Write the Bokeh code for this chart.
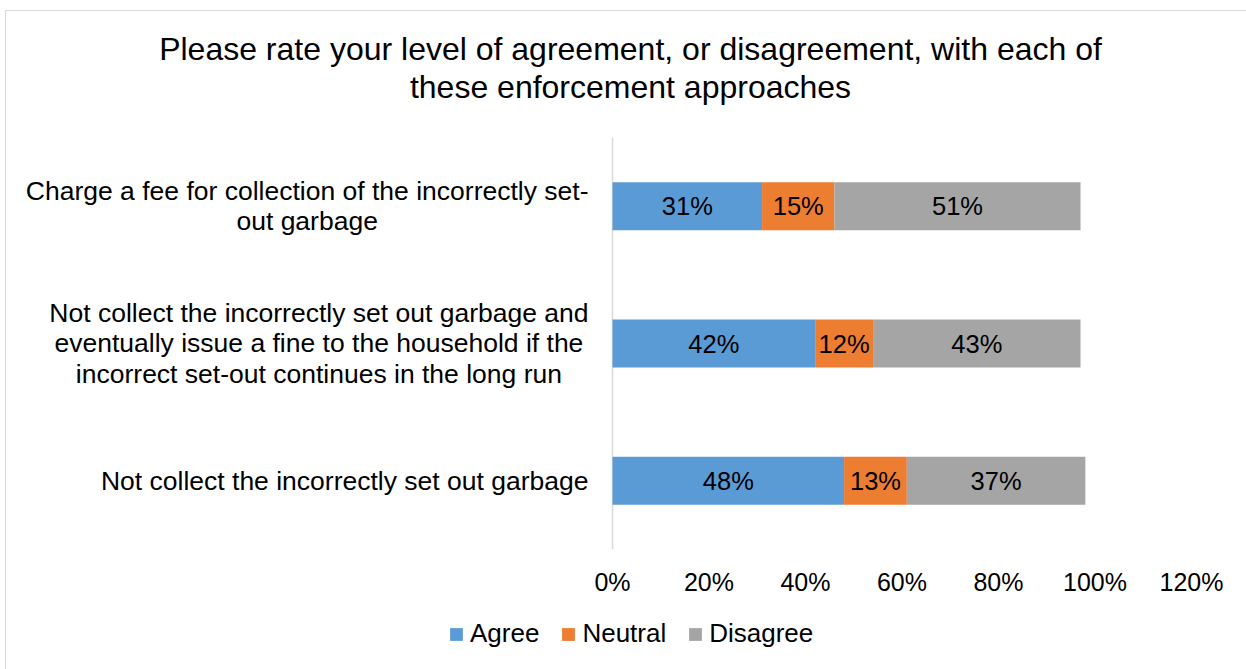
from bokeh.plotting import figure
from bokeh.layouts import column
from bokeh.models import (Range1d, FixedTicker, Legend, LegendItem, ColumnDataSource,
                          InlineStyleSheet)
from bokeh.core.properties import value
from bokeh.embed import file_html
from bokeh.resources import INLINE

# ---------------- data ----------------
title_lines = ["Please rate your level of agreement, or disagreement, with each of",
               "these enforcement approaches"]
categories = [
    "Charge a fee for collection of the incorrectly set-\nout garbage",
    "Not collect the incorrectly set out garbage and\neventually issue a fine to the household if the\nincorrect set-out continues in the long run",
    "Not collect the incorrectly set out garbage",
]
series = ["Agree", "Neutral", "Disagree"]
agree = [31, 42, 48]
neutral = [15, 12, 13]
disagree = [51, 43, 37]
tick_values = [0, 20, 40, 60, 80, 100, 120]
tick_labels = ["0%", "20%", "40%", "60%", "80%", "100%", "120%"]

# ---------------- layout / style ----------------
colors = ["#5B9BD5", "#ED7D31", "#A5A5A5"]
FONT = "Liberation Sans"
W, H = 1246, 669
MAIN_H = 600            # main figure (plot + x axis); legend strip below
PX_PER = 4.825          # pixels per percentage point
X0 = 612                # pixel of 0%
FRAME_BOTTOM = 549
ROW_PX = 137.33         # pixels per category row

def px_to_x(px):
    return (px - X0) / PX_PER

def px_to_y(py):
    return -0.5 + (FRAME_BOTTOM - py) / ROW_PX

n = len(categories)
ypos = [n - 1 - i for i in range(n)]   # first category at top

p = figure(width=W, height=MAIN_H,
           x_range=Range1d(px_to_x(0), px_to_x(W)),
           y_range=Range1d(px_to_y(FRAME_BOTTOM), px_to_y(0)),
           output_backend="svg", toolbar_location=None,
           y_axis_location=None,
           min_border_left=0, min_border_right=0,
           min_border_top=0, min_border_bottom=MAIN_H - FRAME_BOTTOM)
p.outline_line_color = None
p.grid.visible = False

src = ColumnDataSource(dict(y=ypos, Agree=agree, Neutral=neutral, Disagree=disagree))
renderers = p.hbar_stack(series, y="y", height=0.35, color=colors,
                         line_color=None, source=src)

# vertical category axis line
p.segment(x0=[0], y0=[-0.5], x1=[0], y1=[n - 0.5], line_color="#d9d9d9",
          line_width=1.5, level="underlay")

# segment value labels
lx, ly, lt = [], [], []
for i in range(n):
    left = 0
    for vals in (agree, neutral, disagree):
        v = vals[i]
        lx.append(left + v / 2)
        ly.append(ypos[i])
        lt.append(f"{v}%")
        left += v
p.text(x=lx, y=ly, text=lt, text_align="center", text_baseline="middle",
       text_font=value(FONT), text_font_size="25.5px", text_color="#000000")

# category labels (block right-anchored, lines centred)
p.text(x=[px_to_x(588)] * n, y=ypos, text=categories,
       anchor="center_right", text_align="center", text_baseline="middle",
       text_line_height=1.02,
       text_font=value(FONT), text_font_size="26.5px", text_color="#000000")

# chart title
p.text(x=[px_to_x(630)] * 2, y=[px_to_y(48), px_to_y(86)], text=title_lines,
       text_align="center", text_baseline="middle",
       text_font=value(FONT), text_font_size="32px", text_color="#000000")

# x axis
ax = p.xaxis[0]
ax.ticker = FixedTicker(ticks=tick_values)
ax.major_label_overrides = {v: l for v, l in zip(tick_values, tick_labels)}
ax.axis_line_color = None
ax.major_tick_line_color = None
ax.minor_tick_line_color = None
ax.major_tick_out = 0
ax.major_tick_in = 0
ax.major_label_standoff = 18
ax.major_label_text_font = FONT
ax.major_label_text_font_size = "25px"
ax.major_label_text_color = "#000000"

# legend strip (same bar renderers, kept out of its view, supply the legend swatches)
lg = figure(width=W, height=H - MAIN_H, x_range=Range1d(0, 1), y_range=Range1d(100, 101),
            output_backend="svg", toolbar_location=None,
            x_axis_location=None, y_axis_location=None,
            min_border_left=0, min_border_right=0, min_border_top=0, min_border_bottom=0)
lg.outline_line_color = None
lg.grid.visible = False
swatches = lg.hbar_stack(series, y="y", height=0.35, color=colors,
                         line_color=None, source=src)
legend = Legend(items=[LegendItem(label=s, renderers=[r]) for s, r in zip(series, swatches)],
                orientation="horizontal", location=(448, 20),
                glyph_width=16, glyph_height=16, label_standoff=6, spacing=21,
                padding=0, margin=0, border_line_color=None, background_fill_alpha=0,
                label_text_font=FONT, label_text_font_size="26px", label_text_color="#000000")
lg.add_layout(legend, "center")

page = column(p, lg, spacing=0)
# light outer chart border
page.stylesheets = [InlineStyleSheet(css=(
    ":host::after{content:'';position:absolute;left:5px;top:10px;width:1241px;height:659px;"
    "border-left:1.5px solid #d9d9d9;border-top:1.5px solid #d9d9d9;"
    "box-sizing:border-box;pointer-events:none;}"))]

open("out.html", "w").write(file_html(page, INLINE))
